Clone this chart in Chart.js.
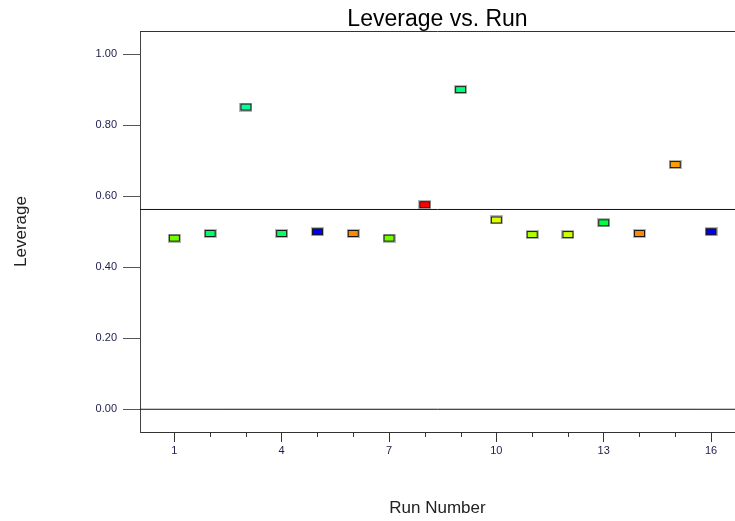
<!DOCTYPE html>
<html>
<head>
<meta charset="utf-8">
<script src="https://cdn.jsdelivr.net/npm/chart.js@4"></script>
<style>
  html, body { margin: 0; padding: 0; background: #ffffff; }
  canvas { display: block; }
</style>
</head>
<body>
<canvas id="chart" width="735" height="521"></canvas>
<script>
// Run order and the leverage of each run
const runs = [1, 2, 3, 4, 5, 6, 7, 8, 9, 10, 11, 12, 13, 14, 15, 16];
const leverage = [0.482, 0.495, 0.851, 0.495, 0.500, 0.495, 0.482, 0.576,
                  0.900, 0.533, 0.492, 0.492, 0.525, 0.495, 0.689, 0.500];
const pointColors = ['#70ff00', '#00ff66', '#00ff99', '#00ff66', '#0000f0', '#ff8800',
                     '#70ff00', '#ff0000', '#00ff77', '#ddff00', '#b0ff00', '#ccff00',
                     '#00ff44', '#ff8800', '#ffa000', '#0000f0'];
// Average leverage (p/n) reference line
const averageLeverage = 0.5625;
// Axis ticks
const yTickValues = [0.0, 0.2, 0.4, 0.6, 0.8, 1.0];
const xTickValues = runs;
const xLabelledRuns = [1, 4, 7, 10, 13, 16];
const xRange = [0.04, 16.67];
const yRange = [-0.064, 1.065];

// Small outlined rectangle used as the point marker
function makeMarker(fill) {
  const w = 13, h = 9;
  const cv = document.createElement('canvas');
  cv.width = w; cv.height = h;
  const g = cv.getContext('2d');
  g.fillStyle = 'rgba(120,120,120,0.55)';
  g.fillRect(0, 0, w, h);
  g.fillStyle = '#1a1a1a';
  g.fillRect(1, 1, w - 2, h - 2);
  g.fillStyle = fill;
  g.fillRect(2, 2, w - 4, h - 4);
  return cv;
}

// Minor ticks on the run axis and the top frame line
const framePlugin = {
  id: 'frame',
  afterDraw(chart) {
    const { ctx, chartArea } = chart;
    const xs = chart.scales.x;
    ctx.save();
    ctx.strokeStyle = '#333333';
    ctx.lineWidth = 1;
    ctx.beginPath();
    ctx.moveTo(chartArea.left, Math.round(chartArea.top) + 0.5);
    ctx.lineTo(chartArea.right, Math.round(chartArea.top) + 0.5);
    xTickValues.forEach(v => {
      if (xLabelledRuns.includes(v)) return;
      const px = Math.round(xs.getPixelForValue(v)) + 0.5;
      ctx.moveTo(px, chartArea.bottom);
      ctx.lineTo(px, chartArea.bottom + 5);
    });
    ctx.stroke();
    ctx.restore();
  }
};

const tickColor = '#1c1c4c';

new Chart(document.getElementById('chart'), {
  type: 'scatter',
  data: {
    datasets: [
      {
        label: 'Leverage',
        data: runs.map((r, i) => ({ x: r, y: leverage[i] })),
        pointStyle: pointColors.map(makeMarker),
        pointRadius: 6,
        order: 1
      },
      {
        type: 'line',
        label: 'zero',
        data: [{ x: xRange[0], y: 0 }, { x: xRange[1], y: 0 }],
        borderColor: '#111111',
        borderWidth: 1,
        pointRadius: 0,
        order: 2
      },
      {
        type: 'line',
        label: 'average',
        data: [{ x: xRange[0], y: averageLeverage }, { x: xRange[1], y: averageLeverage }],
        borderColor: '#111111',
        borderWidth: 1,
        pointRadius: 0,
        order: 2
      }
    ]
  },
  options: {
    responsive: false,
    animation: false,
    events: [],
    layout: { padding: 0, autoPadding: false },
    plugins: {
      legend: { display: false },
      tooltip: { enabled: false },
      title: {
        display: true,
        text: 'Leverage vs. Run',
        fullSize: false,
        color: '#000000',
        font: { family: "'Liberation Sans', Arial, sans-serif", size: 23, weight: 'normal', lineHeight: '23px' },
        padding: { top: 8, bottom: 0 }
      }
    },
    scales: {
      x: {
        type: 'linear',
        min: xRange[0],
        max: xRange[1],
        afterBuildTicks: s => { s.ticks = xTickValues.map(v => ({ value: v })); },
        afterFit: s => { s.height = 89; s.paddingLeft = 0; s.paddingRight = 0; },
        ticks: {
          autoSkip: false,
          maxRotation: 0,
          padding: 2,
          color: tickColor,
          font: { family: "'Liberation Sans', Arial, sans-serif", size: 11 },
          callback: v => (xLabelledRuns.includes(v) ? String(v) : '')
        },
        grid: {
          display: true,
          drawOnChartArea: false,
          tickLength: 10,
          lineWidth: 1,
          color: c => (c.tick && xLabelledRuns.includes(c.tick.value) ? '#333333' : 'rgba(0,0,0,0)')
        },
        border: { display: true, color: '#333333', width: 1 },
        title: {
          display: true,
          text: 'Run Number',
          color: '#222222',
          font: { family: "'Liberation Sans', Arial, sans-serif", size: 17 },
          padding: { top: 0, bottom: 2 }
        }
      },
      y: {
        type: 'linear',
        min: yRange[0],
        max: yRange[1],
        afterBuildTicks: s => { s.ticks = yTickValues.map(v => ({ value: v })); },
        afterFit: s => { s.width = 140; s.paddingTop = 0; s.paddingBottom = 0; },
        ticks: {
          autoSkip: false,
          padding: 6,
          color: tickColor,
          font: { family: "'Liberation Sans', Arial, sans-serif", size: 11 },
          callback: v => Number(v).toFixed(2)
        },
        grid: {
          display: true,
          drawOnChartArea: false,
          tickLength: 17,
          lineWidth: 1,
          color: '#555555'
        },
        border: { display: true, color: '#444444', width: 1 },
        title: {
          display: true,
          text: 'Leverage',
          color: '#222222',
          font: { family: "'Liberation Sans', Arial, sans-serif", size: 17 },
          padding: { top: 11, bottom: 0 }
        }
      }
    }
  },
  plugins: [framePlugin]
});
</script>
</body>
</html>
